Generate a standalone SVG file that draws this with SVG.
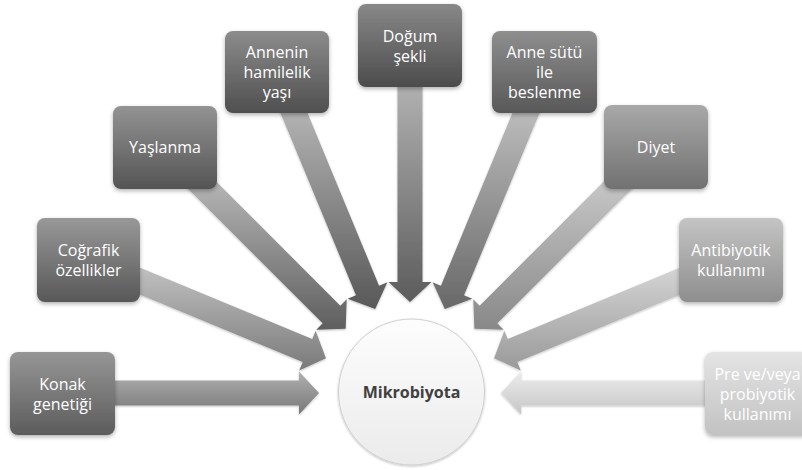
<svg xmlns="http://www.w3.org/2000/svg" width="802" height="470" viewBox="0 0 802 470">
<defs>
<style>
.box{stroke:none;filter:url(#sh)}
.arr{stroke:none;filter:url(#sh2)}
.t{font-family:"Open Sans",Lato,"Liberation Sans",sans-serif;font-size:16px;fill:#ffffff;text-anchor:middle}
.c{font-family:"Open Sans",Lato,"Liberation Sans",sans-serif;font-size:16px;font-weight:bold;fill:#404040;text-anchor:middle}
</style>
<filter id="sh" x="-20%" y="-20%" width="140%" height="150%"><feDropShadow dx="0" dy="2" stdDeviation="2" flood-color="#000" flood-opacity="0.3"/></filter>
<filter id="sh2" x="-20%" y="-20%" width="140%" height="140%"><feDropShadow dx="0" dy="1" stdDeviation="1.2" flood-color="#000" flood-opacity="0.25"/></filter>
<linearGradient id="b1" x1="0" y1="0" x2="0" y2="1"><stop offset="0" stop-color="#969696"/><stop offset="1" stop-color="#5c5c5c"/></linearGradient>
<linearGradient id="b2" x1="0" y1="0" x2="0" y2="1"><stop offset="0" stop-color="#989898"/><stop offset="1" stop-color="#585858"/></linearGradient>
<linearGradient id="b3" x1="0" y1="0" x2="0" y2="1"><stop offset="0" stop-color="#939393"/><stop offset="1" stop-color="#545454"/></linearGradient>
<linearGradient id="b4" x1="0" y1="0" x2="0" y2="1"><stop offset="0" stop-color="#8c8c8c"/><stop offset="1" stop-color="#4f4f4f"/></linearGradient>
<linearGradient id="b5" x1="0" y1="0" x2="0" y2="1"><stop offset="0" stop-color="#888888"/><stop offset="1" stop-color="#4c4c4c"/></linearGradient>
<linearGradient id="b6" x1="0" y1="0" x2="0" y2="1"><stop offset="0" stop-color="#8e8e8e"/><stop offset="1" stop-color="#585858"/></linearGradient>
<linearGradient id="b7" x1="0" y1="0" x2="0" y2="1"><stop offset="0" stop-color="#a8a8a8"/><stop offset="1" stop-color="#717171"/></linearGradient>
<linearGradient id="b8" x1="0" y1="0" x2="0" y2="1"><stop offset="0" stop-color="#c4c4c4"/><stop offset="1" stop-color="#8e8e8e"/></linearGradient>
<linearGradient id="b9" x1="0" y1="0" x2="0" y2="1"><stop offset="0" stop-color="#e4e4e4"/><stop offset="1" stop-color="#c2c2c2"/></linearGradient>
<linearGradient id="a1" x1="0" y1="0" x2="0" y2="1"><stop offset="0" stop-color="#b0b0b0"/><stop offset="1" stop-color="#787878"/></linearGradient>
<linearGradient id="a2" x1="0" y1="0" x2="0" y2="1"><stop offset="0" stop-color="#c2c2c2"/><stop offset="1" stop-color="#7a7a7a"/></linearGradient>
<linearGradient id="a3" x1="0" y1="0" x2="0" y2="1"><stop offset="0" stop-color="#bdbdbd"/><stop offset="1" stop-color="#5e5e5e"/></linearGradient>
<linearGradient id="a4" x1="0" y1="0" x2="0" y2="1"><stop offset="0" stop-color="#b8b8b8"/><stop offset="1" stop-color="#585858"/></linearGradient>
<linearGradient id="a5" x1="0" y1="0" x2="0" y2="1"><stop offset="0" stop-color="#b2b2b2"/><stop offset="1" stop-color="#5c5c5c"/></linearGradient>
<linearGradient id="a6" x1="0" y1="0" x2="0" y2="1"><stop offset="0" stop-color="#c0c0c0"/><stop offset="1" stop-color="#686868"/></linearGradient>
<linearGradient id="a7" x1="0" y1="0" x2="0" y2="1"><stop offset="0" stop-color="#cccccc"/><stop offset="1" stop-color="#888888"/></linearGradient>
<linearGradient id="a8" x1="0" y1="0" x2="0" y2="1"><stop offset="0" stop-color="#d6d6d6"/><stop offset="1" stop-color="#999999"/></linearGradient>
<linearGradient id="a9" x1="0" y1="0" x2="0" y2="1"><stop offset="0" stop-color="#ececec"/><stop offset="1" stop-color="#c6c6c6"/></linearGradient>
<linearGradient id="cg" x1="0" y1="0" x2="0" y2="1"><stop offset="0" stop-color="#fdfdfd"/><stop offset="1" stop-color="#ebebeb"/></linearGradient>
</defs>
<rect width="802" height="470" fill="#ffffff"/>
<g id="connectors">
<polygon class="arr" fill="url(#a1)" points="110,380.5 299,380.5 299,371.5 319,393 299,414.5 299,405.5 110,405.5"/>
<polygon class="arr" fill="url(#a2)" points="133,264.73 312.23,338.97 315.68,330.66 325.93,358.18 299.22,370.38 302.67,362.07 123.44,287.83"/>
<polygon class="arr" fill="url(#a3)" points="203.17,168.49 340.35,305.67 346.71,299.31 345.65,328.65 316.31,329.71 322.67,323.35 185.49,186.17"/>
<polygon class="arr" fill="url(#a4)" points="302.15,99.97 379.07,285.67 387.38,282.22 375.18,308.93 347.66,298.68 355.97,295.23 279.05,109.53"/>
<polygon class="arr" fill="url(#a5)" points="422.5,81 422.5,282 431.5,282 410,302 388.5,282 397.5,282 397.5,81"/>
<polygon class="arr" fill="url(#a6)" points="540.95,109.53 464.03,295.23 472.34,298.68 444.82,308.93 432.62,282.22 440.93,285.67 517.85,99.97"/>
<polygon class="arr" fill="url(#a7)" points="634.51,186.17 497.33,323.35 503.69,329.71 474.35,328.65 473.29,299.31 479.65,305.67 616.83,168.49"/>
<polygon class="arr" fill="url(#a8)" points="696.56,287.83 517.33,362.07 520.78,370.38 494.07,358.18 504.32,330.66 507.77,338.97 687,264.73"/>
<polygon class="arr" fill="url(#a9)" points="710,405.5 521,405.5 521,414.5 501,393 521,371.5 521,380.5 710,380.5"/>
</g>
<g id="mikrobiyota">
<circle cx="411.5" cy="392" r="73" fill="url(#cg)" stroke="#cfcfcf" stroke-width="1" filter="url(#sh2)"/>
<text class="c" x="411.5" y="397.5">Mikrobiyota</text>
</g>
<g id="konak">
<rect class="box" x="10" y="352" width="105" height="83" rx="8" fill="url(#b1)"/>
<text class="t" x="62.5" y="389.5">Konak</text>
<text class="t" x="62.5" y="410">genetiği</text>
</g>
<g id="cografik">
<rect class="box" x="37" y="218" width="103" height="84" rx="8" fill="url(#b2)"/>
<text class="t" x="88.5" y="255.5">Coğrafik</text>
<text class="t" x="88.5" y="276">özellikler</text>
</g>
<g id="yaslanma">
<rect class="box" x="113" y="106" width="104" height="83" rx="8" fill="url(#b3)"/>
<text class="t" x="165" y="153">Yaşlanma</text>
</g>
<g id="annenin">
<rect class="box" x="225" y="31" width="104" height="82" rx="8" fill="url(#b4)"/>
<text class="t" x="277" y="58">Annenin</text>
<text class="t" x="277" y="78">hamilelik</text>
<text class="t" x="277" y="98">yaşı</text>
</g>
<g id="dogum">
<rect class="box" x="358" y="4" width="104" height="83" rx="8" fill="url(#b5)"/>
<text class="t" x="410" y="41.5">Doğum</text>
<text class="t" x="410" y="62">şekli</text>
</g>
<g id="annesutu">
<rect class="box" x="492" y="31" width="105" height="82" rx="8" fill="url(#b6)"/>
<text class="t" x="544.5" y="58">Anne sütü</text>
<text class="t" x="544.5" y="78">ile</text>
<text class="t" x="544.5" y="98">beslenme</text>
</g>
<g id="diyet">
<rect class="box" x="604" y="105" width="104" height="84" rx="8" fill="url(#b7)"/>
<text class="t" x="656" y="152.5">Diyet</text>
</g>
<g id="antibiyotik">
<rect class="box" x="679" y="218" width="104" height="84" rx="8" fill="url(#b8)"/>
<text class="t" x="731" y="255.5">Antibiyotik</text>
<text class="t" x="731" y="276">kullanımı</text>
</g>
<g id="prebiyotik">
<rect class="box" x="705" y="352" width="105" height="83" rx="8" fill="url(#b9)"/>
<text class="t" x="757.5" y="379.5">Pre ve/veya</text>
<text class="t" x="757.5" y="399.5">probiyotik</text>
<text class="t" x="757.5" y="419.5">kullanımı</text>
</g>
</svg>
